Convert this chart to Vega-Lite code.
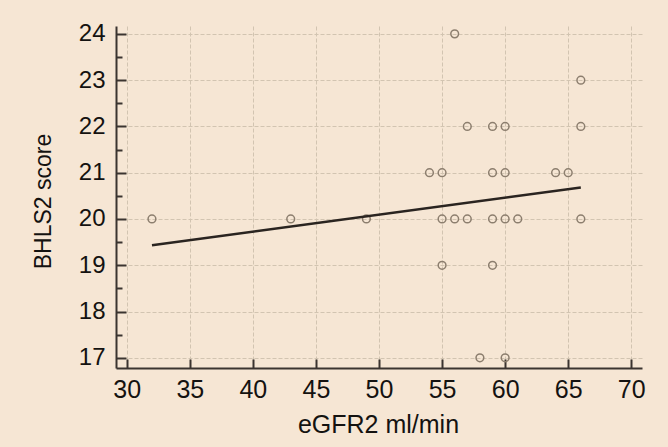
{
  "$schema": "https://vega.github.io/schema/vega-lite/v6.json",
  "width": 526,
  "height": 342,
  "autosize": {"type": "none"},
  "padding": {"left": 116, "top": 26, "right": 26, "bottom": 79},
  "background": "#f6e6d4",
  "config": {
    "view": {"stroke": null},
    "axis": {
      "labelFont": "Liberation Sans",
      "titleFont": "Liberation Sans",
      "labelColor": "#141210",
      "titleColor": "#141210",
      "titleFontWeight": "normal",
      "domainColor": "#3b3430",
      "domainWidth": 2,
      "tickColor": "#3b3430",
      "tickWidth": 2,
      "gridColor": "#d2c4b1",
      "gridDash": [4, 2],
      "gridWidth": 1
    }
  },
  "datasets": {
    "scores": [
      {"egfr": 56, "bhls": 24},
      {"egfr": 66, "bhls": 23},
      {"egfr": 57, "bhls": 22},
      {"egfr": 59, "bhls": 22},
      {"egfr": 60, "bhls": 22},
      {"egfr": 66, "bhls": 22},
      {"egfr": 54, "bhls": 21},
      {"egfr": 55, "bhls": 21},
      {"egfr": 59, "bhls": 21},
      {"egfr": 60, "bhls": 21},
      {"egfr": 64, "bhls": 21},
      {"egfr": 65, "bhls": 21},
      {"egfr": 32, "bhls": 20},
      {"egfr": 43, "bhls": 20},
      {"egfr": 49, "bhls": 20},
      {"egfr": 55, "bhls": 20},
      {"egfr": 56, "bhls": 20},
      {"egfr": 57, "bhls": 20},
      {"egfr": 59, "bhls": 20},
      {"egfr": 60, "bhls": 20},
      {"egfr": 61, "bhls": 20},
      {"egfr": 66, "bhls": 20},
      {"egfr": 55, "bhls": 19},
      {"egfr": 59, "bhls": 19},
      {"egfr": 58, "bhls": 17},
      {"egfr": 60, "bhls": 17}
    ],
    "fit": [
      {"egfr": 32, "bhls": 19.43},
      {"egfr": 66, "bhls": 20.68}
    ]
  },
  "layer": [
    {
      "data": {"name": "scores"},
      "mark": {"type": "point", "shape": "circle", "filled": false, "size": 60, "stroke": "#8c7e6e", "strokeWidth": 1.5, "opacity": 1},
      "encoding": {
        "x": {
          "field": "egfr",
          "type": "quantitative",
          "scale": {"domain": [29.15, 70.85], "nice": false, "zero": false},
          "axis": {
            "title": "eGFR2 ml/min",
            "titleFontSize": 25,
            "titleX": 262,
            "titleY": 64,
            "titleBaseline": "alphabetic",
            "values": [30, 35, 40, 45, 50, 55, 60, 65, 70],
            "labelFontSize": 25,
            "labelPadding": 18,
            "tickSize": -9,
            "grid": true,
            "format": "d"
          }
        },
        "y": {
          "field": "bhls",
          "type": "quantitative",
          "scale": {"domain": [16.78, 24.17], "nice": false, "zero": false},
          "axis": {
            "title": "BHLS2 score",
            "titleFontSize": 23,
            "titleX": -66,
            "titleY": 175,
            "titleBaseline": "alphabetic",
            "values": [17, 18, 19, 20, 21, 22, 23, 24],
            "labelFontSize": 24,
            "labelPadding": 21,
            "tickSize": -10,
            "grid": true,
            "orient": "left",
            "format": "d"
          }
        }
      }
    },
    {
      "data": {"name": "fit"},
      "mark": {"type": "line", "color": "#2a2420", "strokeWidth": 2.5},
      "encoding": {
        "x": {"field": "egfr", "type": "quantitative"},
        "y": {
          "field": "bhls",
          "type": "quantitative",
          "axis": {
            "title": null,
            "orient": "left",
            "values": [17.5, 18.5, 19.5, 20.5, 21.5, 22.5, 23.5],
            "labels": false,
            "domain": false,
            "grid": false,
            "tickSize": -6
          }
        }
      }
    }
  ],
  "resolve": {"axis": {"y": "independent"}}
}
